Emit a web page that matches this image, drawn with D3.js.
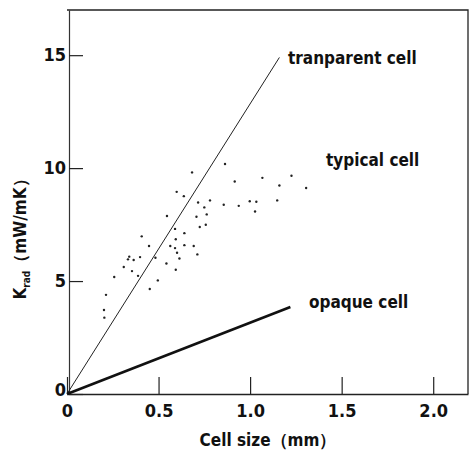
<!DOCTYPE html>
<html>
<head>
<meta charset="utf-8">
<script src="https://cdn.jsdelivr.net/npm/d3@7"></script>
<style>
  body { margin: 0; background: #fff; }
  text { font-family: "DejaVu Sans Condensed", "DejaVu Sans", sans-serif; font-stretch: condensed; fill: #111; }
</style>
</head>
<body>
<div id="chart"></div>
<script>
/////////////////////////////////////////////////
/* Data */
/////////////////////////////////////////////////
// scattered measurements (cell size mm, Krad mW/mK)
const cellSize = [0.863, 0.683, 0.916, 1.067, 1.226, 1.160, 1.306, 0.599, 0.638, 0.716,
                  0.781, 0.750, 0.856, 0.938, 0.998, 1.034, 1.148, 1.027, 0.763, 0.546,
                  0.707, 0.725, 0.758, 0.590, 0.641, 0.408, 0.594, 0.448, 0.564, 0.641,
                  0.692, 0.590, 0.601, 0.712, 0.614, 0.483, 0.399, 0.340, 0.333, 0.364,
                  0.543, 0.310, 0.355, 0.594, 0.388, 0.258, 0.496, 0.452, 0.213, 0.202,
                  0.204, 1.461];
const kRad = [10.18, 9.81, 9.41, 9.57, 9.66, 9.23, 9.12, 8.95, 8.76, 8.48,
              8.57, 8.26, 8.38, 8.33, 8.53, 8.51, 8.57, 8.08, 7.95, 7.88,
              7.85, 7.39, 7.49, 7.31, 7.12, 6.98, 6.85, 6.55, 6.55, 6.59,
              6.55, 6.46, 6.25, 6.18, 6.00, 6.03, 6.06, 6.08, 5.96, 5.93,
              5.78, 5.62, 5.44, 5.50, 5.23, 5.18, 5.03, 4.65, 4.39, 3.72,
              3.38, 10.01];

// model lines
const transparentLine = [[0, 0], [1.16, 14.9]];
const opaqueLine = [[0, 0], [1.22, 3.85]];

const xTicks = [0, 0.5, 1.0, 1.5, 2.0];
const xTickLabels = ["0", "0.5", "1.0", "1.5", "2.0"];
const yTicks = [0, 5, 10, 15];

/////////////////////////////////////////////////
/* Chart */
/////////////////////////////////////////////////
const W = 474, H = 457;
const svg = d3.select("#chart").append("svg")
    .attr("width", W).attr("height", H);

const x = d3.scaleLinear().domain([0, 2.19]).range([67, 468]);
const y = d3.scaleLinear().domain([0, 17]).range([394, 10]);

// box (top and right sides)
svg.append("path")
    .attr("d", `M ${x(0)} ${y(17)} L ${x(2.19)} ${y(17)} L ${x(2.19)} ${y(0)}`)
    .attr("fill", "none").attr("stroke", "#222").attr("stroke-width", 1.3);

// x axis, ticks pointing up
const xAxis = svg.append("g")
    .attr("transform", `translate(0,${y(0)})`)
    .call(d3.axisBottom(x).tickValues(xTicks)
        .tickFormat((d, i) => xTickLabels[i])
        .tickSizeInner(-17).tickSizeOuter(0).tickPadding(10));
xAxis.select(".domain").attr("stroke", "#222").attr("stroke-width", 1.3);
xAxis.selectAll(".tick line").attr("stroke", "#222").attr("stroke-width", 1.2);
xAxis.selectAll(".tick text").attr("font-size", 18).attr("fill", "#111")
    .attr("font-weight", "bold").attr("font-family", null);

// y axis, ticks pointing right
const yAxis = svg.append("g")
    .attr("transform", `translate(${x(0) + 2},0)`)
    .call(d3.axisLeft(y).tickValues(yTicks)
        .tickSizeInner(-14).tickSizeOuter(0).tickPadding(3));
yAxis.select(".domain").attr("stroke", "#333").attr("stroke-width", 1.2);
yAxis.selectAll(".tick line").attr("stroke", "#222").attr("stroke-width", 1.2);
yAxis.selectAll(".tick text").attr("font-size", 18).attr("fill", "#111")
    .attr("font-weight", "bold").attr("font-family", null);
yAxis.selectAll(".tick").filter(d => d === 0).select("text").attr("dy", "0.1em");
// d3 sets font-family on the axis group; let the css family apply
xAxis.attr("font-family", null);
yAxis.attr("font-family", null);

// axis titles
svg.append("text")
    .attr("x", 268).attr("y", 446)
    .attr("text-anchor", "middle").attr("font-size", 17).attr("font-weight", "bold")
    .text("Cell size（mm）");

const yTitle = svg.append("text")
    .attr("transform", `translate(26,${235}) rotate(-90)`)
    .attr("text-anchor", "middle").attr("font-size", 17).attr("font-weight", "bold");
yTitle.append("tspan").text("K");
yTitle.append("tspan").attr("font-size", 10).attr("dy", 4).text("rad");
yTitle.append("tspan").attr("dy", -4).text("（mW/mK）");

// model lines
const line = d3.line().x(d => x(d[0])).y(d => y(d[1]));
svg.append("path").datum(transparentLine)
    .attr("d", line).attr("fill", "none")
    .attr("stroke", "#222").attr("stroke-width", 1);
svg.append("path").datum(opaqueLine)
    .attr("d", line).attr("fill", "none")
    .attr("stroke", "#111").attr("stroke-width", 2.6);

// scatter points
svg.append("g").selectAll("circle")
    .data(cellSize.map((c, i) => [c, kRad[i]]))
    .enter().append("circle")
    .attr("cx", d => x(d[0]))
    .attr("cy", d => y(d[1]))
    .attr("r", 1.2)
    .attr("fill", "#222");

// annotations
svg.append("text").attr("x", 288).attr("y", 64)
    .attr("font-size", 17).attr("font-weight", "bold").text("tranparent  cell");
svg.append("text").attr("x", 326).attr("y", 166)
    .attr("font-size", 17).attr("font-weight", "bold").text("typical  cell");
svg.append("text").attr("x", 309).attr("y", 308)
    .attr("font-size", 17).attr("font-weight", "bold").text("opaque  cell");
</script>
</body>
</html>
